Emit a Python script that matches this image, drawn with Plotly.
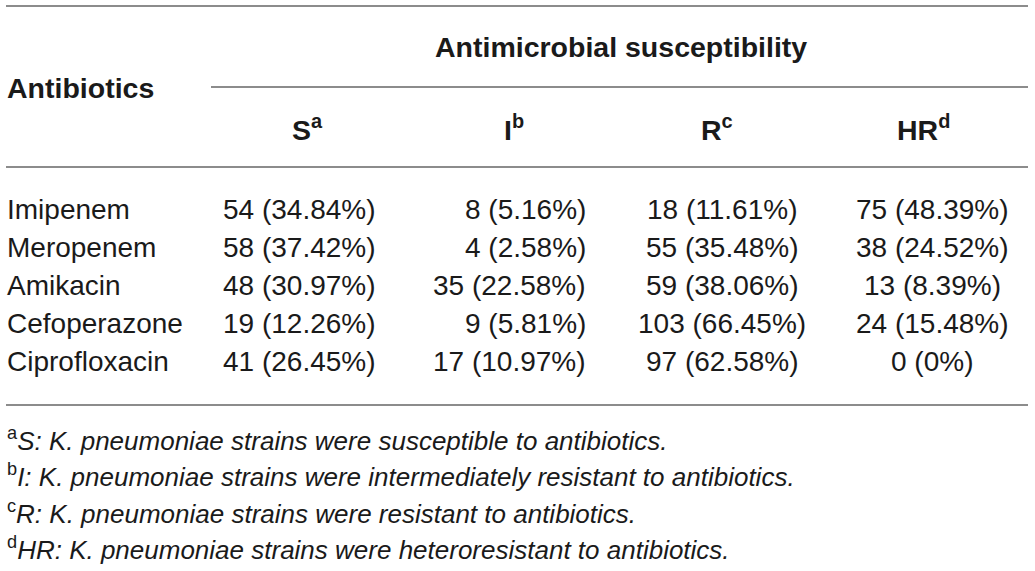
import plotly.graph_objects as go

# ---- data ----
antibiotics = ["Imipenem", "Meropenem", "Amikacin", "Cefoperazone", "Ciprofloxacin"]
s_n = [54, 58, 48, 19, 41]
s_pct = ["34.84", "37.42", "30.97", "12.26", "26.45"]
i_n = [8, 4, 35, 9, 17]
i_pct = ["5.16", "2.58", "22.58", "5.81", "10.97"]
r_n = [18, 55, 59, 103, 97]
r_pct = ["11.61", "35.48", "38.06", "66.45", "62.58"]
hr_n = [75, 38, 13, 24, 0]
hr_pct = ["48.39", "24.52", "8.39", "15.48", "0"]

col_labels = ["S", "I", "R", "HR"]
col_sups = ["a", "b", "c", "d"]
row_header = "Antibiotics"
group_header = "Antimicrobial susceptibility"
footnotes = [
    ("a", "S: K. pneumoniae strains were susceptible to antibiotics."),
    ("b", "I: K. pneumoniae strains were intermediately resistant to antibiotics."),
    ("c", "R: K. pneumoniae strains were resistant to antibiotics."),
    ("d", "HR: K. pneumoniae strains were heteroresistant to antibiotics."),
]

# ---- layout constants ----
W, H = 1035, 571
TXT = "#1a1a1a"
RULE = "#8c8c8c"
FONT = "Liberation Sans, Arial, sans-serif"
BODY = 28
HEAD = 28.5
FOOT = 26
row_y0, row_step = 209, 38
col_x = [299, 588, 722, 932]
col_anchor = ["center", "right", "center", "center"]
head_x = [307, 514, 717, 923]
foot_y0, foot_step = 439, 36.5

fig = go.Figure()
ann = []

def cell(x, y, text, anchor="center", size=BODY, weight="normal", style="normal"):
    ann.append(dict(x=x, y=y, xref="x", yref="y", text=text, showarrow=False,
                    xanchor=anchor, yanchor="middle",
                    font=dict(family=FONT, size=size, color=TXT, weight=weight, style=style)))

# headers
cell(5, 88, "<b>%s</b>" % row_header, anchor="left", size=HEAD)
cell(621, 47, "<b>%s</b>" % group_header, size=HEAD)
for k, (lab, sup) in enumerate(zip(col_labels, col_sups)):
    cell(head_x[k], 128, "<b>%s<sup>%s</sup></b>" % (lab, sup), size=HEAD)

# body
cols = [(s_n, s_pct), (i_n, i_pct), (r_n, r_pct), (hr_n, hr_pct)]
for r, name in enumerate(antibiotics):
    y = row_y0 + r * row_step
    cell(5, y, name, anchor="left")
    for k, (ns, ps) in enumerate(cols):
        cell(col_x[k], y, "%d (%s%%)" % (ns[r], ps[r]), anchor=col_anchor[k])

# footnotes
for j, (sup, txt) in enumerate(footnotes):
    cell(5, foot_y0 + j * foot_step,
         "<sup><span style='font-style:normal'>%s</span></sup>%s" % (sup, txt),
         anchor="left", size=FOOT, style="italic")

# rules
rules = [(6, 1028, 6), (211, 1028, 87), (6, 1028, 167), (6, 1028, 405)]
shapes = [dict(type="line", xref="x", yref="y", x0=a, x1=b, y0=y, y1=y,
               line=dict(color=RULE, width=2)) for a, b, y in rules]

fig.update_layout(
    width=W, height=H, margin=dict(l=0, r=0, t=0, b=0),
    paper_bgcolor="white", plot_bgcolor="white",
    xaxis=dict(range=[0, W], visible=False, fixedrange=True),
    yaxis=dict(range=[H, 0], visible=False, fixedrange=True),
    annotations=ann, shapes=shapes, showlegend=False,
)
fig.write_html("out.html", config={"displayModeBar": False, "staticPlot": True},
               post_script="document.body.style.margin='0';document.body.style.overflow='hidden';")
